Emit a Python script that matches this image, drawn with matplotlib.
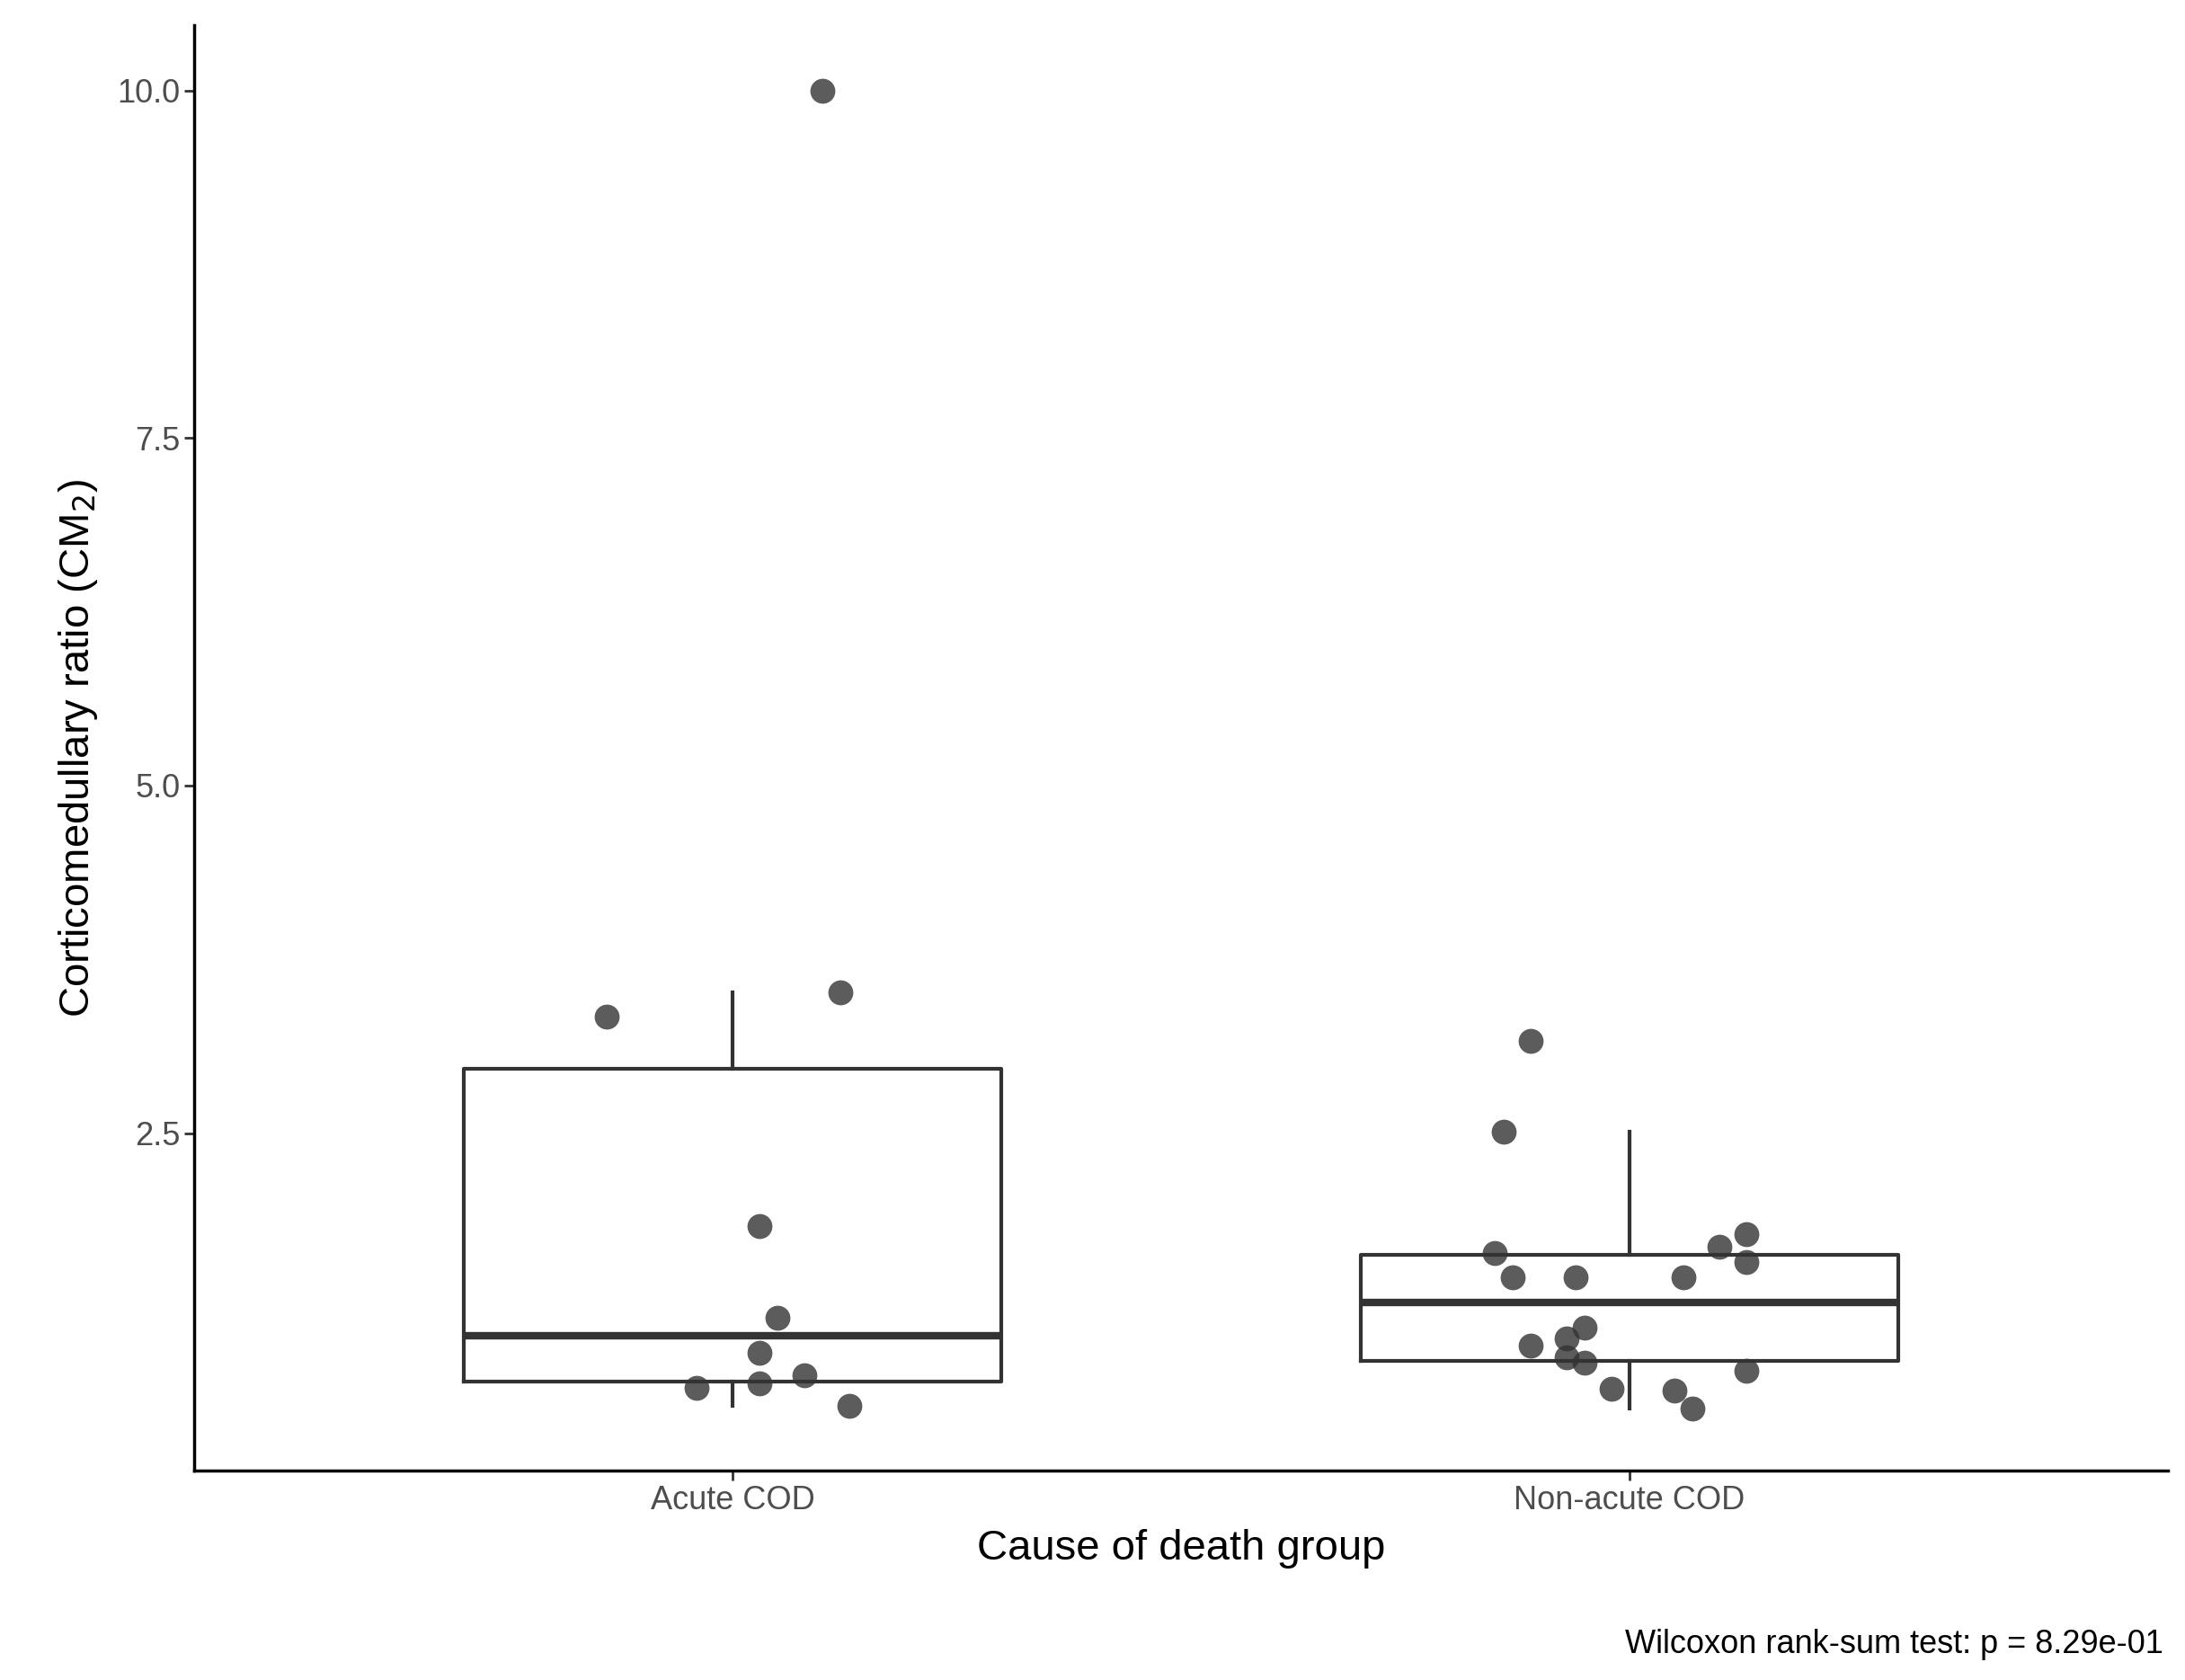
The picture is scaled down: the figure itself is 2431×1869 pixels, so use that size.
import numpy as np
import matplotlib.pyplot as plt

groups = ["Acute COD", "Non-acute COD"]
acute = [10.0, 3.34, 3.51, 1.83, 1.17, 0.92, 0.67, 0.70, 0.76, 0.54]
acute_jit = [0.10, -0.14, 0.12, 0.03, 0.05, 0.03, -0.04, 0.03, 0.08, 0.13]
nonacute = [3.16, 2.51, 1.64, 1.46, 1.46, 1.46, 1.68, 1.77, 1.57, 1.10,
            0.97, 1.02, 0.89, 0.85, 0.79, 0.66, 0.65, 0.52]
nonacute_jit = [-0.11, -0.14, -0.15, -0.13, -0.06, 0.06, 0.10, 0.13, 0.13, -0.05,
                -0.11, -0.07, -0.07, -0.05, 0.13, -0.02, 0.05, 0.07]

plt.rcParams['font.family'] = ['Liberation Sans', 'DejaVu Sans']
fig = plt.figure(figsize=(24.31, 18.69), dpi=100)
ax = fig.add_axes([0.089, 0.1245, 0.903, 0.8605])

ax.boxplot([acute, nonacute], positions=[1, 2], widths=0.6, showfliers=False,
           whis=1.5, medianprops=dict(color='#333333', linewidth=6),
           boxprops=dict(color='#333333', linewidth=3),
           whiskerprops=dict(color='#333333', linewidth=3),
           capprops=dict(linewidth=0))

for i, (vals, jit) in enumerate([(acute, acute_jit), (nonacute, nonacute_jit)]):
    xs = np.array(jit) + i + 1
    ax.scatter(xs, vals, s=400, color='#333333', alpha=0.8, zorder=3, linewidths=0)

ax.set_xlim(0.4, 2.6)
ax.set_ylim(0.07, 10.47)
ax.set_xticks([1, 2])
ax.set_xticklabels(groups)
ax.set_yticks([2.5, 5.0, 7.5, 10.0])
ax.set_yticklabels(["2.5", "5.0", "7.5", "10.0"])
ax.tick_params(labelsize=26, labelcolor='#4d4d4d', length=8, width=2, color='#333333')
for s in ['top', 'right']:
    ax.spines[s].set_visible(False)
for s in ['left', 'bottom']:
    ax.spines[s].set_linewidth(2.5)
ax.set_xlabel("Cause of death group", fontsize=34, labelpad=10)
ax.set_ylabel("Corticomedullary ratio (CM$_2$)", fontsize=34, labelpad=14)
fig.text(0.99, 0.012, "Wilcoxon rank-sum test: p = 8.29e-01", ha='right', va='bottom', fontsize=26)

fig.savefig("out.png", dpi=100)
